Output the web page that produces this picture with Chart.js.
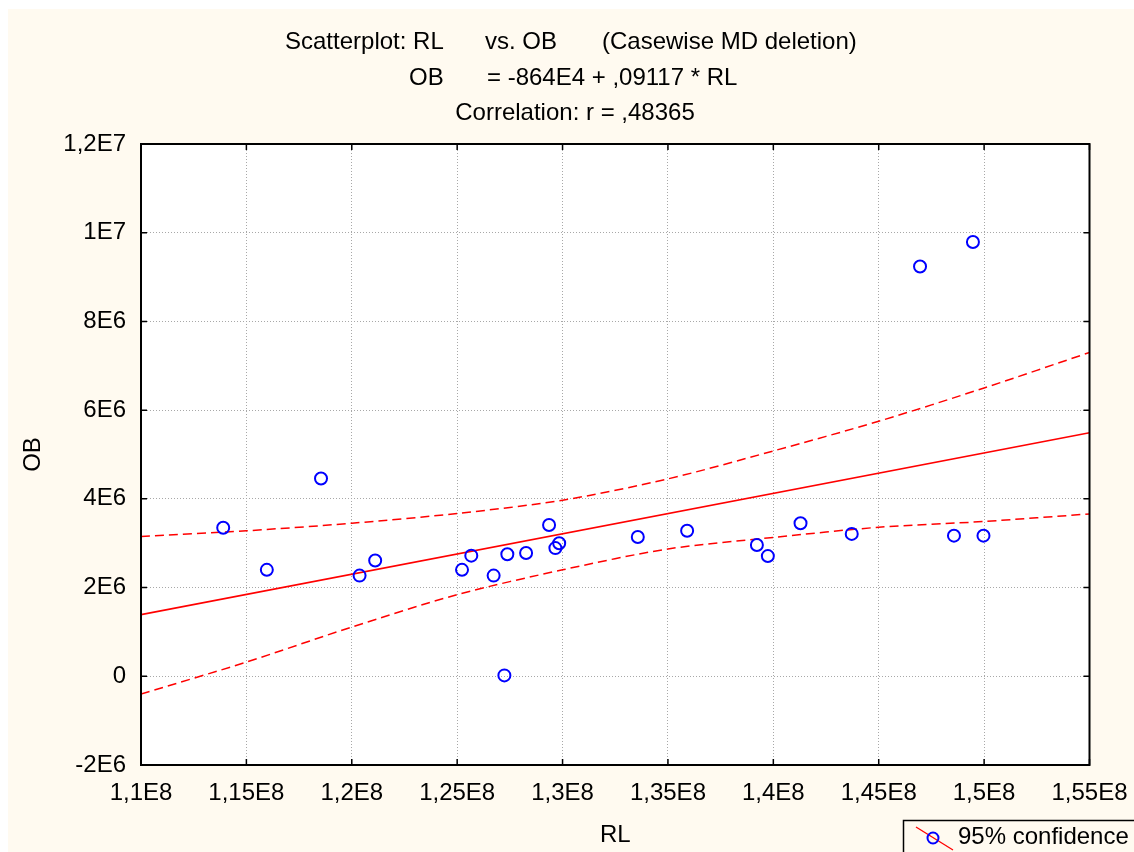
<!DOCTYPE html>
<html>
<head>
<meta charset="utf-8">
<title>Scatterplot: RL vs. OB</title>
<script src="https://cdn.jsdelivr.net/npm/chart.js@4.4.0/dist/chart.umd.min.js"></script>
<style>
  html, body { margin: 0; padding: 0; background: #ffffff; }
  canvas { display: block; }
</style>
</head>
<body>
<canvas id="scatterChart" width="1134" height="852"></canvas>
<script>
/* ---------------- Data ---------------- */
const rlValues = [
  1.1390e8, 1.1597e8, 1.1854e8, 1.2037e8, 1.2111e8, 1.2523e8, 1.2567e8, 1.2673e8,
  1.2738e8, 1.2827e8, 1.2724e8, 1.2936e8, 1.2966e8, 1.2984e8, 1.3357e8, 1.3591e8,
  1.3922e8, 1.3974e8, 1.4129e8, 1.4372e8, 1.4696e8, 1.4947e8, 1.4857e8, 1.4997e8
];
const obValues = [
  3.35e6, 2.40e6, 4.46e6, 2.27e6, 2.61e6, 2.40e6, 2.72e6, 2.27e6,
  2.75e6, 2.78e6, 0.02e6, 3.41e6, 2.89e6, 3.00e6, 3.14e6, 3.28e6,
  2.96e6, 2.71e6, 3.45e6, 3.21e6, 9.24e6, 9.79e6, 3.17e6, 3.17e6
];

// regression line end points
const fitRL = [1.1e8, 1.55e8];
const fitOB = [1.39e6, 5.49e6];

// 95% confidence band, read at each x tick
const bandRL  = [1.1e8, 1.15e8, 1.2e8, 1.25e8, 1.3e8, 1.35e8, 1.4e8, 1.45e8, 1.5e8, 1.55e8];
const upperOB = [3.15e6, 3.28e6, 3.45e6, 3.67e6, 3.97e6, 4.45e6, 5.08e6, 5.75e6, 6.50e6, 7.30e6];
const lowerOB = [-0.40e6, 0.32e6, 1.11e6, 1.84e6, 2.40e6, 2.87e6, 3.13e6, 3.36e6, 3.49e6, 3.66e6];

const xTickLabels = ["1,1E8", "1,15E8", "1,2E8", "1,25E8", "1,3E8", "1,35E8", "1,4E8", "1,45E8", "1,5E8", "1,55E8"];
const yTickLabels = ["-2E6", "0", "2E6", "4E6", "6E6", "8E6", "1E7", "1,2E7"];

const FONT = "'Liberation Sans', Arial, sans-serif";
const CREAM = "#fffaf0";

function toPoints(xs, ys) {
  return xs.map((x, i) => ({ x: x, y: ys[i] }));
}

/* ---------------- Background, frame, titles, legend ---------------- */
const decorPlugin = {
  id: "decor",
  beforeDraw(chart) {
    const { ctx, chartArea: a } = chart;
    ctx.save();
    ctx.fillStyle = CREAM;
    ctx.fillRect(8, 9, chart.width - 8, chart.height - 9);
    ctx.fillStyle = "#ffffff";
    ctx.fillRect(a.left, a.top, a.right - a.left, a.bottom - a.top);
    ctx.restore();
  },
  afterDraw(chart) {
    const { ctx, chartArea: a } = chart;
    const xs = chart.scales.x, ys = chart.scales.y;
    ctx.save();

    // inward tick marks on all four sides
    ctx.strokeStyle = "#000000";
    ctx.lineWidth = 1.5;
    ctx.beginPath();
    xs.ticks.forEach((t) => {
      const px = xs.getPixelForValue(t.value);
      ctx.moveTo(px, a.bottom); ctx.lineTo(px, a.bottom - 6);
      ctx.moveTo(px, a.top);    ctx.lineTo(px, a.top + 6);
    });
    ys.ticks.forEach((t) => {
      const py = ys.getPixelForValue(t.value);
      ctx.moveTo(a.left, py);  ctx.lineTo(a.left + 6, py);
      ctx.moveTo(a.right, py); ctx.lineTo(a.right - 6, py);
    });
    ctx.stroke();

    // frame
    ctx.lineWidth = 2;
    ctx.strokeRect(a.left, a.top, a.right - a.left, a.bottom - a.top);

    // titles
    ctx.fillStyle = "#000000";
    ctx.font = "24px " + FONT;
    ctx.textBaseline = "middle";
    ctx.textAlign = "left";
    ctx.fillText("Scatterplot: RL", 285, 42);
    ctx.fillText("vs. OB", 485, 42);
    ctx.fillText("(Casewise MD deletion)", 602, 42);
    ctx.fillText("OB", 409, 78);
    ctx.fillText("= -864E4 + ,09117 * RL", 487, 78);
    ctx.textAlign = "center";
    ctx.fillText("Correlation: r = ,48365", 575, 113);

    // axis titles
    ctx.fillText("RL", (a.left + a.right) / 2, 835);
    ctx.save();
    ctx.translate(33, (a.top + a.bottom) / 2);
    ctx.rotate(-Math.PI / 2);
    ctx.fillText("OB", 0, 0);
    ctx.restore();

    // legend box
    ctx.lineWidth = 1.5;
    ctx.strokeRect(903.5, 820.5, 240, 40);
    ctx.strokeStyle = "#ff0000";
    ctx.lineWidth = 1.3;
    ctx.beginPath();
    ctx.moveTo(916, 827); ctx.lineTo(953, 850);
    ctx.stroke();
    ctx.strokeStyle = "#0000ff";
    ctx.lineWidth = 2;
    ctx.beginPath();
    ctx.arc(933, 838, 5.5, 0, Math.PI * 2);
    ctx.stroke();
    ctx.fillStyle = "#000000";
    ctx.textAlign = "left";
    ctx.fillText("95% confidence", 958, 837);

    ctx.restore();
  }
};

/* ---------------- Chart ---------------- */
function renderScatter() {
  const ctx = document.getElementById("scatterChart");
  if (!ctx || typeof Chart === "undefined") return;

  const dashed = {
    showLine: true,
    borderColor: "#ff0000",
    borderWidth: 1.5,
    borderDash: [9, 5],
    pointRadius: 0,
    tension: 0.3,
    fill: false
  };

  new Chart(ctx, {
    type: "scatter",
    data: {
      datasets: [
        {
          label: "OB",
          data: toPoints(rlValues, obValues),
          pointStyle: "circle",
          pointRadius: 6,
          pointBorderWidth: 2,
          pointBorderColor: "#0000ff",
          pointBackgroundColor: "rgba(0,0,0,0)"
        },
        {
          label: "fit",
          data: toPoints(fitRL, fitOB),
          showLine: true,
          borderColor: "#ff0000",
          borderWidth: 1.6,
          pointRadius: 0
        },
        Object.assign({ label: "upper 95%", data: toPoints(bandRL, upperOB) }, dashed),
        Object.assign({ label: "lower 95%", data: toPoints(bandRL, lowerOB) }, dashed)
      ]
    },
    options: {
      responsive: false,
      animation: false,
      devicePixelRatio: 1,
      layout: { padding: { top: 144, right: 44.5, left: 0, bottom: 0 } },
      plugins: {
        legend: { display: false },
        tooltip: { enabled: false },
        title: { display: false }
      },
      scales: {
        x: {
          type: "linear",
          min: 1.1e8,
          max: 1.55e8,
          afterFit: (scale) => {
            scale.height = 87;
            scale.paddingLeft = 0;
            scale.paddingRight = 0;
          },
          ticks: {
            stepSize: 5e6,
            padding: 14,
            color: "#000000",
            font: { family: FONT, size: 24 },
            maxRotation: 0,
            autoSkip: false,
            callback: (value) => xTickLabels[Math.round((value - 1.1e8) / 5e6)]
          },
          grid: { color: "#a8a8a8", lineWidth: 1, drawTicks: false },
          border: { display: false, dash: [1, 2] }
        },
        y: {
          type: "linear",
          min: -2e6,
          max: 1.2e7,
          afterFit: (scale) => {
            scale.width = 141;
            scale.paddingTop = 0;
            scale.paddingBottom = 0;
          },
          ticks: {
            stepSize: 2e6,
            padding: 15,
            color: "#000000",
            font: { family: FONT, size: 24 },
            autoSkip: false,
            callback: (value) => yTickLabels[Math.round((value + 2e6) / 2e6)]
          },
          grid: { color: "#a8a8a8", lineWidth: 1, drawTicks: false },
          border: { display: false, dash: [1, 2] }
        }
      }
    },
    plugins: [decorPlugin]
  });
}

document.addEventListener("DOMContentLoaded", renderScatter);
</script>
</body>
</html>
